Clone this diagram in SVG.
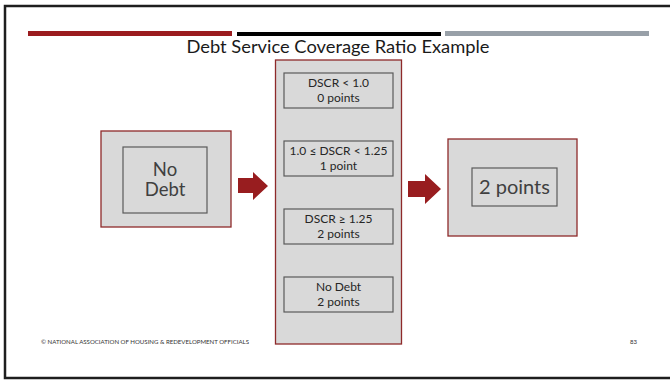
<svg xmlns="http://www.w3.org/2000/svg" width="670" height="380" viewBox="0 0 670 380">
  <style>
    text { font-family: Lato, "Open Sans", "DejaVu Sans", sans-serif; }
    .frame { fill: #ffffff; stroke: #1e1e1e; stroke-width: 2.5; }
    .outer { fill: #d9d9d9; stroke: #8e2a2a; stroke-width: 1.3; }
    .inner { fill: #d9d9d9; stroke: #5a5a5a; stroke-width: 1.2; }
    .arrow { fill: #981d1f; }
    .big { font-size: 20px; fill: #404040; text-anchor: middle; }
    .two-line { font-size: 18.5px; }
    .small { font-size: 12px; fill: #262626; text-anchor: middle; }
    .title { font-size: 18px; fill: #1a1a1a; text-anchor: middle; }
    .foot { font-size: 6px; fill: #333333; }
  </style>

  <!-- slide frame -->
  <rect class="frame" x="5" y="6" width="670" height="372"/>

  <!-- header rule in three colours -->
  <rect x="28" y="31" width="204" height="5" fill="#9b1c1f"/>
  <rect x="237" y="32" width="204" height="4" fill="#000000"/>
  <rect x="445" y="31" width="204" height="5" fill="#98a0a8"/>

  <text class="title" x="338" y="53" textLength="303" lengthAdjust="spacingAndGlyphs">Debt Service Coverage Ratio Example</text>

  <!-- input -->
  <g id="input">
    <rect class="outer" x="101" y="131" width="130" height="96"/>
    <rect class="inner" x="123" y="147" width="84" height="66"/>
    <text class="big two-line" x="165" y="176">No</text>
    <text class="big two-line" x="165" y="196">Debt</text>
  </g>

  <!-- scoring table -->
  <g id="scoring">
    <rect class="outer" x="275.5" y="60" width="126" height="284"/>
    <g id="tier-1">
      <rect class="inner" x="284" y="73" width="109" height="35"/>
      <text class="small" x="338.5" y="87">DSCR &lt; 1.0</text>
      <text class="small" x="338.5" y="102">0 points</text>
    </g>
    <g id="tier-2">
      <rect class="inner" x="284" y="141" width="109" height="35"/>
      <text class="small" x="338.5" y="155">1.0 ≤ DSCR &lt; 1.25</text>
      <text class="small" x="338.5" y="170">1 point</text>
    </g>
    <g id="tier-3">
      <rect class="inner" x="284" y="209" width="109" height="35"/>
      <text class="small" x="338.5" y="223">DSCR ≥ 1.25</text>
      <text class="small" x="338.5" y="238">2 points</text>
    </g>
    <g id="tier-4">
      <rect class="inner" x="284" y="277" width="109" height="35"/>
      <text class="small" x="338.5" y="291">No Debt</text>
      <text class="small" x="338.5" y="306">2 points</text>
    </g>
  </g>

  <!-- result -->
  <g id="result">
    <rect class="outer" x="448" y="139" width="129" height="97"/>
    <rect class="inner" x="472" y="168" width="85" height="38"/>
    <text class="big" x="514.5" y="194">2 points</text>
  </g>

  <!-- block arrows -->
  <g id="connectors">
    <polygon class="arrow" points="238,178 253,178 253,172 268,186 253,200 253,193 238,193"/>
    <polygon class="arrow" points="408,181 425,181 425,174 441,189 425,204 425,197 408,197"/>
  </g>

  <!-- footer -->
  <text class="foot" x="41" y="344" textLength="208" lengthAdjust="spacingAndGlyphs">© NATIONAL ASSOCIATION OF HOUSING &amp; REDEVELOPMENT OFFICIALS</text>
  <text class="foot" x="630" y="344">83</text>
</svg>
